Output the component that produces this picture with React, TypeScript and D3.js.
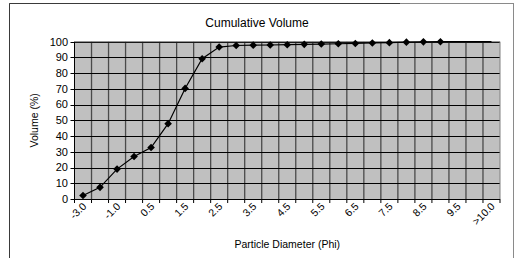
import React, { useEffect, useRef } from 'react'
import * as d3 from 'd3'

// particle size classes (phi)
const categories = [
  '-3.0', '-2.0', '-1.0', '0.0', '0.5', '1.0', '1.5', '2.0', '2.5', '3.0',
  '3.5', '4.0', '4.5', '5.0', '5.5', '6.0', '6.5', '7.0', '7.5', '8.0',
  '8.5', '9.0', '9.5', '10.0', '>10.0'
]

// cumulative volume (%)
const volume = [
  2.2, 7.4, 19, 27, 32.7, 47.9, 70.3, 89.2, 96.6, 97.6,
  97.8, 97.9, 98.1, 98.3, 98.5, 98.7, 98.9, 99.2, 99.4, 99.7,
  99.9, 100, 100, 100, 100
]

// markers are only drawn up to this class
const lastMarked = '9.0'

const yTicks = [0, 10, 20, 30, 40, 50, 60, 70, 80, 90, 100]

const W = 515
const H = 258

export default function App() {
  const ref = useRef<SVGSVGElement>(null)

  useEffect(() => {
    const svg = d3.select(ref.current)
    svg.selectAll('*').remove()

    const left = 74.5
    const right = 500
    const top = 41.7
    const bottom = 199
    const font = 'Liberation Sans, Arial, sans-serif'

    const x = d3.scaleBand().domain(categories).range([left, right]).padding(0)
    const y = d3.scaleLinear().domain([0, 100]).range([bottom, top])
    const cx = (c: string) => (x(c) as number) + x.bandwidth() / 2

    // outer frame
    svg.append('rect')
      .attr('x', 9.5).attr('y', 3.5)
      .attr('width', 504).attr('height', 270)
      .attr('fill', '#fff')
      .attr('stroke', '#8a8a8a')
    svg.append('path')
      .attr('d', 'M9.5,273 V3.5 H400')
      .attr('fill', 'none')
      .attr('stroke', '#3a3a3a')

    // plot area
    svg.append('rect')
      .attr('x', left).attr('y', top)
      .attr('width', right - left).attr('height', bottom - top)
      .attr('fill', '#c0c0c0')

    // vertical grid at category boundaries
    svg.append('g')
      .selectAll('line')
      .data(categories.slice(1))
      .join('line')
      .attr('x1', d => x(d) as number).attr('x2', d => x(d) as number)
      .attr('y1', top).attr('y2', bottom)
      .attr('stroke', '#4a4a4a')
      .attr('stroke-width', 1.3)

    // horizontal grid
    svg.append('g')
      .selectAll('line')
      .data(yTicks.slice(1))
      .join('line')
      .attr('x1', left).attr('x2', right)
      .attr('y1', d => Math.round(y(d)) + 0.5).attr('y2', d => Math.round(y(d)) + 0.5)
      .attr('stroke', '#000')

    // plot border (right/top)
    svg.append('path')
      .attr('d', `M${left},${top} H${right} V${bottom}`)
      .attr('fill', 'none')
      .attr('stroke', '#808080')

    // y axis
    const yAxis = svg.append('g')
    yAxis.append('line')
      .attr('x1', left).attr('x2', left).attr('y1', top).attr('y2', bottom)
      .attr('stroke', '#000')
    yAxis.selectAll('line.tick')
      .data(yTicks)
      .join('line')
      .attr('class', 'tick')
      .attr('x1', left - 4).attr('x2', left)
      .attr('y1', d => Math.round(y(d)) + 0.5).attr('y2', d => Math.round(y(d)) + 0.5)
      .attr('stroke', '#000')
    yAxis.selectAll('text')
      .data(yTicks)
      .join('text')
      .attr('x', 68)
      .attr('y', d => y(d))
      .attr('dy', '0.35em')
      .attr('text-anchor', 'end')
      .attr('font-family', font)
      .attr('font-size', 11)
      .attr('fill', '#000')
      .text(d => d)

    // x axis
    const xAxis = svg.append('g')
    xAxis.append('line')
      .attr('x1', left).attr('x2', right).attr('y1', bottom + 0.5).attr('y2', bottom + 0.5)
      .attr('stroke', '#000')
    xAxis.selectAll('line.tick')
      .data(categories.concat(['end']))
      .join('line')
      .attr('class', 'tick')
      .attr('x1', (d, i) => left + i * x.bandwidth())
      .attr('x2', (d, i) => left + i * x.bandwidth())
      .attr('y1', bottom).attr('y2', bottom + 4)
      .attr('stroke', '#000')
    xAxis.selectAll('text')
      .data(categories.filter((d, i) => i % 2 === 0))
      .join('text')
      .attr('transform', d => `translate(${cx(d) + 4},${207}) rotate(-45)`)
      .attr('text-anchor', 'end')
      .attr('font-family', font)
      .attr('font-size', 10.5)
      .attr('fill', '#000')
      .text(d => d)

    // titles
    svg.append('text')
      .attr('x', 257).attr('y', 27)
      .attr('text-anchor', 'middle')
      .attr('font-family', font)
      .attr('font-size', 12)
      .text('Cumulative Volume')
    svg.append('text')
      .attr('x', (left + right) / 2).attr('y', 248)
      .attr('text-anchor', 'middle')
      .attr('font-family', font)
      .attr('font-size', 10.5)
      .text('Particle Diameter (Phi)')
    svg.append('text')
      .attr('transform', `translate(38,${(top + bottom) / 2}) rotate(-90)`)
      .attr('text-anchor', 'middle')
      .attr('font-family', font)
      .attr('font-size', 10.5)
      .text('Volume (%)')

    // series line
    const line = d3.line<number>()
      .x((d, i) => cx(categories[i]))
      .y(d => y(d))
    svg.append('path')
      .datum(volume)
      .attr('d', line)
      .attr('fill', 'none')
      .attr('stroke', '#000')
      .attr('stroke-width', 1.2)

    // diamond markers
    const stop = categories.indexOf(lastMarked)
    const r = 3.8
    svg.append('g')
      .selectAll('path')
      .data(volume.slice(0, stop + 1))
      .join('path')
      .attr('d', (d, i) => {
        const px = cx(categories[i])
        const py = y(d)
        return `M${px},${py - r}L${px + r},${py}L${px},${py + r}L${px - r},${py}Z`
      })
      .attr('fill', '#000')
  }, [])

  return (
    <svg
      ref={ref}
      width={W}
      height={H}
      style={{ position: 'absolute', left: 0, top: 0, background: '#fff' }}
    />
  )
}
